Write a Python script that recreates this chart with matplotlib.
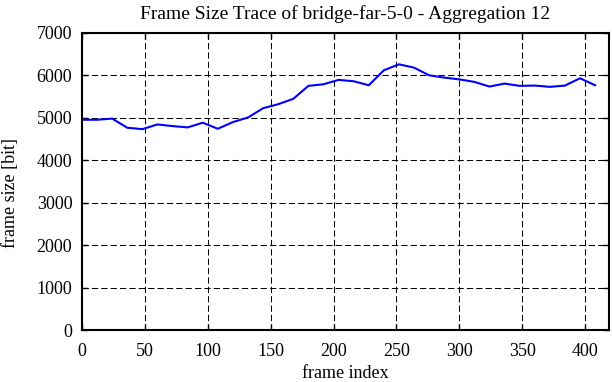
#!/usr/bin/env python3
"""Frame size trace, aggregation 12 (gnuplot-style look)."""

import matplotlib
matplotlib.use('Agg')
import matplotlib.pyplot as plt

# frame index of each aggregated point (every 12 frames)
frame_index = [0, 12, 24, 36, 48, 60, 72, 84, 96, 108, 120, 132, 144, 156,
               168, 180, 192, 204, 216, 228, 240, 252, 264, 276, 288, 300,
               312, 324, 336, 348, 360, 372, 384, 396, 408]
# frame size [bit]
frame_size = [4953, 4953, 4980, 4765, 4732, 4843, 4804, 4773, 4883, 4741,
              4898, 5007, 5225, 5319, 5446, 5751, 5789, 5892, 5860, 5766,
              6118, 6259, 6181, 6000, 5946, 5904, 5845, 5735, 5805, 5751,
              5758, 5728, 5758, 5930, 5766]

x_ticks = [0, 50, 100, 150, 200, 250, 300, 350, 400]
y_ticks = [0, 1000, 2000, 3000, 4000, 5000, 6000, 7000]

plt.rcParams['font.family'] = ['Liberation Serif', 'DejaVu Serif']
plt.rcParams['font.size'] = 13

fig = plt.figure(figsize=(6.12, 3.82), dpi=100)
plt.subplots_adjust(left=0.134, right=0.995, top=0.914, bottom=0.136)
ax = fig.add_subplot(111)

ax.plot(frame_index, frame_size, color='#0000ff', linewidth=1.5)

ax.set_xlim(0, 419)
ax.set_ylim(0, 7000)
ax.set_xticks(x_ticks)
ax.set_yticks(y_ticks)
ax.grid(True, color='black', linestyle=(0, (6, 3)), linewidth=0.75)
ax.tick_params(direction='in', length=4.5, width=1, top=True, right=True,
               labelsize=13)
ax.tick_params(axis='x', pad=9)
ax.tick_params(axis='y', pad=7)
for s in ax.spines.values():
    s.set_linewidth(1.5)

ax.set_title('Frame Size Trace of bridge-far-5-0 - Aggregation 12',
             fontsize=14, pad=10)
ax.set_xlabel('frame index', fontsize=13, labelpad=4)
ax.set_ylabel('frame size [bit]', fontsize=13)
ax.yaxis.set_label_coords(-0.12, 0.46)

plt.savefig('out.png')
plt.close()
